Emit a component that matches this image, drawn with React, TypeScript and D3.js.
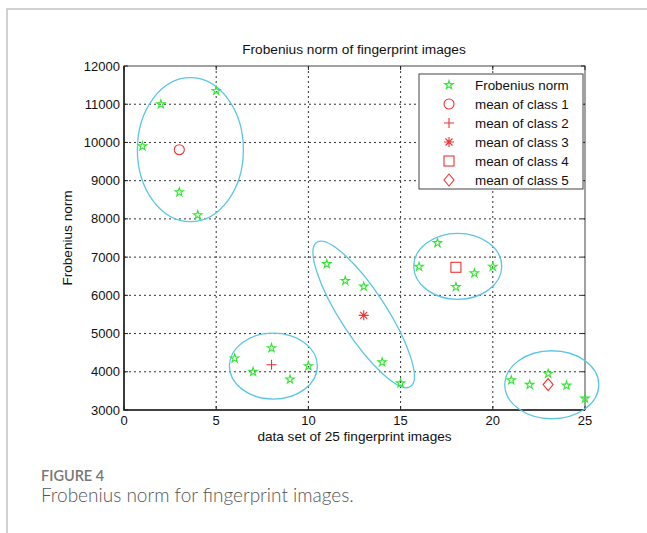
import React from 'react';
import * as d3 from 'd3';

// data set index 1..25 and their Frobenius norms
const imageIndex = d3.range(1, 26);
const frobNorm = [
  9900, 11000, 8700, 8100, 11350,
  4350, 4000, 4620, 3800, 4150,
  6820, 6380, 6230, 4250, 3700,
  6750, 7370, 6220, 6580, 6750,
  3780, 3660, 3950, 3640, 3300,
];
const classMeanX = [3, 8, 13, 18, 23];
const classMeanY = [9810, 4184, 5476, 6734, 3666];
const classMarkers = ['circle', 'plus', 'asterisk', 'square', 'diamond'];
const legendLabels = ['Frobenius norm', 'mean of class 1', 'mean of class 2', 'mean of class 3', 'mean of class 4', 'mean of class 5'];

// cluster ellipses: centre in data units, radii in px, rotation in degrees
const ellipseCx = [3.6, 8.1, 13.0, 18.1, 23.2];
const ellipseCy = [9810, 4150, 5500, 6760, 3660];
const ellipseRx = [53, 44, 86, 44, 47];
const ellipseRy = [72, 33, 23, 33, 34];
const ellipseRot = [0, 0, 57, 0, 0];

const xTicks = [0, 5, 10, 15, 20, 25];
const yTicks = d3.range(3000, 12001, 1000);

const W = 647, H = 533;
const m = {left: 124, right: 585, top: 66, bottom: 410};
const green = '#33e633';
const red = '#ee3333';
const font = 'Arial, "Liberation Sans", sans-serif';

function Marker({kind, x, y}: {kind: string; x: number; y: number}) {
  const s = {fill: 'none', stroke: red, strokeWidth: 1.1};
  if (kind === 'circle') return <circle cx={x} cy={y} r={5} {...s} />;
  if (kind === 'plus') return <path d={`M${x - 5},${y}H${x + 5}M${x},${y - 5}V${y + 5}`} {...s} />;
  if (kind === 'asterisk') return <path d={`M${x - 5},${y}H${x + 5}M${x},${y - 5}V${y + 5}M${x - 3.5},${y - 3.5}L${x + 3.5},${y + 3.5}M${x - 3.5},${y + 3.5}L${x + 3.5},${y - 3.5}`} {...s} />;
  if (kind === 'square') return <rect x={x - 5} y={y - 5} width={10} height={10} {...s} />;
  return <path d={`M${x},${y - 6}L${x + 5},${y}L${x},${y + 6}L${x - 5},${y}Z`} {...s} />;
}

const star = d3.symbol(d3.symbolStar, 22)();

export default function App() {
  const x = d3.scaleLinear().domain([0, 25]).range([m.left, m.right]);
  const y = d3.scaleLinear().domain([3000, 12000]).range([m.bottom, m.top]);

  return (
    <svg width={W} height={H} style={{display: 'block', position: 'absolute', left: 0, top: 0}}>
      <rect width={W} height={H} fill="#fff" />
      <path d={`M7,${H}V9H${W}`} fill="none" stroke="#c4c4c4" strokeWidth={1.5} />

      {/* grid */}
      <g stroke="#333" strokeWidth={1} strokeDasharray="2,3">
        {xTicks.slice(1, -1).map(t => <line key={'gx' + t} x1={x(t)} x2={x(t)} y1={m.top} y2={m.bottom} />)}
        {yTicks.slice(1, -1).map(t => <line key={'gy' + t} x1={m.left} x2={m.right} y1={y(t)} y2={y(t)} />)}
      </g>
      <rect x={m.left} y={m.top} width={m.right - m.left} height={m.bottom - m.top} fill="none" stroke="#444" strokeWidth={1} />
      <path d={`M${m.left},${m.top}V${m.bottom}H${m.right}`} fill="none" stroke="#222" strokeWidth={1.6} />

      {/* ticks */}
      <g stroke="#222">
        {xTicks.map(t => <g key={'tx' + t}>
          <line x1={x(t)} x2={x(t)} y1={m.bottom} y2={m.bottom - 4} />
          <line x1={x(t)} x2={x(t)} y1={m.top} y2={m.top + 4} />
        </g>)}
        {yTicks.map(t => <g key={'ty' + t}>
          <line x1={m.left} x2={m.left + 4} y1={y(t)} y2={y(t)} />
          <line x1={m.right} x2={m.right - 4} y1={y(t)} y2={y(t)} />
        </g>)}
      </g>
      <g fontFamily={font} fontSize={13} fill="#111">
        {xTicks.map(t => <text key={'lx' + t} x={x(t)} y={m.bottom + 15} textAnchor="middle">{t}</text>)}
        {yTicks.map(t => <text key={'ly' + t} x={m.left - 4} y={y(t) + 4.5} textAnchor="end">{t}</text>)}
        <text x={354} y={54} textAnchor="middle" fontSize={13.7}>Frobenius norm of fingerprint images</text>
        <text x={(m.left + m.right) / 2} y={441} textAnchor="middle" fontSize={13.6}>data set of 25 fingerprint images</text>
        <text transform={`translate(72,${(m.top + m.bottom) / 2}) rotate(-90)`} textAnchor="middle" fontSize={13.6}>Frobenius norm</text>
      </g>

      {/* cluster ellipses */}
      {ellipseCx.map((cx, i) => (
        <ellipse key={'e' + i} cx={0} cy={0} rx={ellipseRx[i]} ry={ellipseRy[i]}
          transform={`translate(${x(cx)},${y(ellipseCy[i])}) rotate(${ellipseRot[i]})`}
          fill="none" stroke="#5cc6e6" strokeWidth={1.3} />
      ))}

      {/* points */}
      {imageIndex.map((d, i) => (
        <path key={'p' + d} d={star} transform={`translate(${x(d)},${y(frobNorm[i])})`} fill="none" stroke={green} strokeWidth={1.1} />
      ))}
      {classMeanX.map((d, i) => <Marker key={'m' + i} kind={classMarkers[i]} x={x(d)} y={y(classMeanY[i])} />)}

      {/* legend */}
      <g>
        <rect x={419} y={74} width={164} height={115} fill="#fff" stroke="#444" strokeWidth={1} />
        {legendLabels.map((l, i) => {
          const ly = 85 + i * 19;
          return <g key={'lg' + i}>
            {i === 0
              ? <path d={star} transform={`translate(449,${ly})`} fill="none" stroke={green} strokeWidth={1.1} />
              : <Marker kind={classMarkers[i - 1]} x={449} y={ly} />}
            <text x={475} y={ly + 4.5} fontFamily={font} fontSize={13.4} fill="#111">{l}</text>
          </g>;
        })}
      </g>

      {/* caption */}
      <text x={41} y={481} fontFamily='Lato, "Open Sans", sans-serif' fontWeight={600} fontSize={14.5} fill="#777">FIGURE 4</text>
      <text x={41} y={502} fontFamily='Lato, "Open Sans", sans-serif' fontWeight={300} fontSize={19} fill="#555">Frobenius norm for fingerprint images.</text>
    </svg>
  );
}
